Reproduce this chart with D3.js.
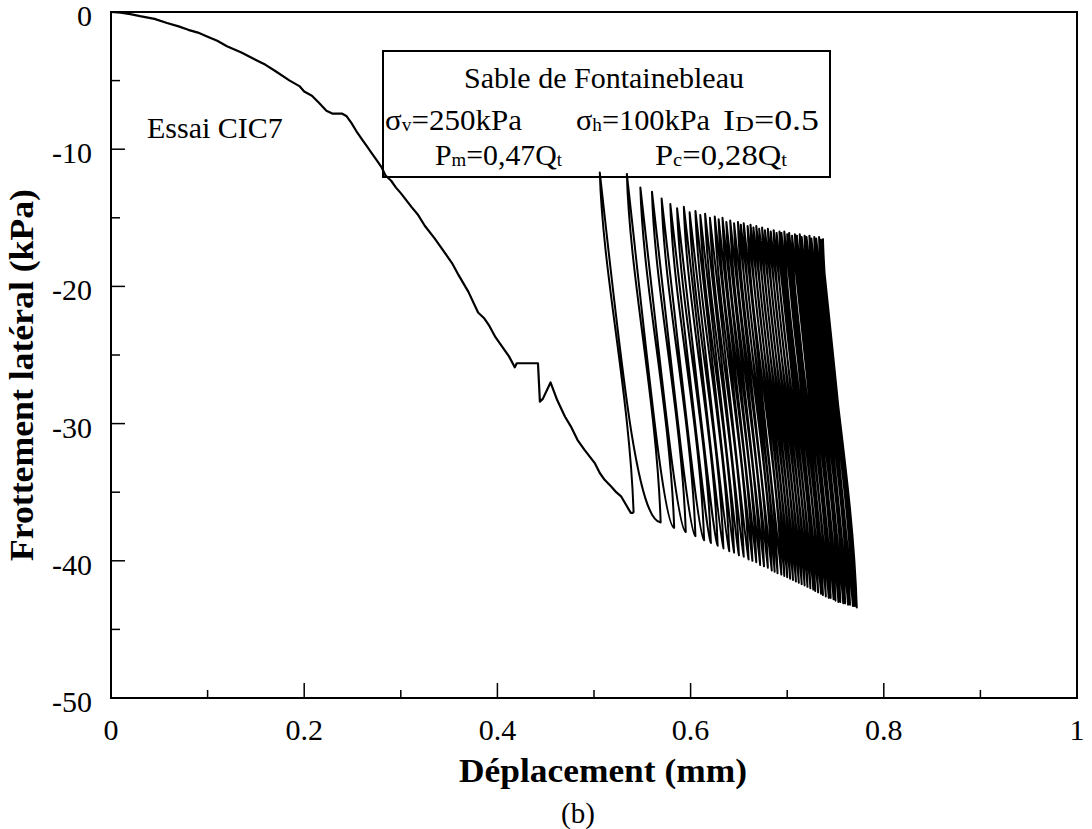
<!DOCTYPE html>
<html><head><meta charset="utf-8">
<script src="https://cdn.jsdelivr.net/npm/d3@7"></script>
<style>
html,body{margin:0;padding:0;background:#fff;}
svg{display:block;}
text{font-family:"Liberation Serif","Times New Roman",serif;fill:#000;}
</style></head>
<body><svg id="c" width="1092" height="829"></svg>
<script>
// ---- data ----
const xTicks = [0, 0.2, 0.4, 0.6, 0.8, 1];
const xTickLabels = ["0", "0.2", "0.4", "0.6", "0.8", "1"];
const yTicks = [0, -10, -20, -30, -40, -50];
const yTickLabels = ["0", "-10", "-20", "-30", "-40", "-50"];

// monotonic loading branch (displacement mm, friction kPa)
const monoX = [0,0.01,0.02,0.03,0.045,0.058,0.07,0.08,0.09,0.10,0.11,0.12,0.135,0.15,0.16,0.17,0.185,0.195,0.20,0.208,0.215,0.223,0.229,0.239,0.244,0.249,0.255,0.26,0.265,0.27,0.275,0.280,0.284,0.29,0.295,0.30,0.311,0.318,0.325,0.335,0.346,0.353,0.36,0.37,0.380,0.386,0.391,0.398,0.406,0.412,0.418,0.420,0.442,0.444,0.447,0.455,0.462,0.470,0.476,0.483,0.49,0.501,0.506,0.511,0.518,0.523,0.528,0.533,0.538,0.541];
const monoY = [0,-0.05,-0.15,-0.3,-0.5,-0.8,-1.05,-1.3,-1.5,-1.8,-2.1,-2.5,-2.95,-3.5,-3.85,-4.3,-5.0,-5.4,-5.8,-6.1,-6.6,-7.2,-7.4,-7.4,-7.6,-8.1,-8.8,-9.3,-9.8,-10.3,-10.8,-11.3,-11.9,-12.3,-12.8,-13.2,-14.2,-14.8,-15.6,-16.5,-17.6,-18.3,-19.2,-20.4,-21.9,-22.3,-22.8,-23.7,-24.5,-25.1,-25.9,-25.6,-25.6,-28.4,-28.2,-27.0,-28.3,-29.5,-30.2,-31.2,-31.9,-32.9,-33.6,-34.1,-34.6,-35.0,-35.3,-35.9,-36.5,-36.5];

// cyclic part: tops (end of each unloading) and bottoms (start of each unloading)
const topX = [0.506,0.534,0.548,0.560,0.570,0.579,0.586,0.593,0.599,0.605,0.610,0.615,0.620,0.625,0.629,0.633,0.637,0.641,0.645,0.649,0.652,0.655,0.659,0.662,0.665,0.668,0.671,0.674,0.677,0.680,0.683,0.686,0.689,0.692,0.694,0.697,0.700,0.702,0.705,0.708,0.710,0.713,0.715,0.718,0.720,0.723,0.725,0.728,0.730,0.733,0.735,0.737];
const topY = [-11.7,-11.8,-12.8,-13.1,-13.6,-14.0,-14.3,-14.2,-14.6,-14.5,-14.8,-14.7,-15.0,-14.9,-15.1,-15.0,-15.3,-15.2,-15.4,-15.3,-15.5,-15.4,-15.6,-15.5,-15.7,-15.6,-15.8,-15.7,-15.9,-15.8,-16.0,-15.9,-16.1,-16.0,-16.1,-16.0,-16.2,-16.1,-16.3,-16.2,-16.3,-16.2,-16.4,-16.3,-16.4,-16.3,-16.5,-16.4,-16.5,-16.4,-16.6,-16.5];
const botX = [0.541,0.569,0.583,0.595,0.605,0.614,0.621,0.628,0.634,0.640,0.645,0.650,0.655,0.660,0.664,0.668,0.672,0.676,0.680,0.684,0.687,0.690,0.694,0.697,0.700,0.703,0.706,0.709,0.712,0.715,0.718,0.721,0.724,0.727,0.729,0.732,0.735,0.737,0.740,0.743,0.745,0.748,0.750,0.753,0.755,0.758,0.760,0.763,0.765,0.768,0.770,0.772];
const botY = [-36.5,-37.2,-37.6,-37.9,-38.2,-38.5,-38.7,-38.9,-39.1,-39.3,-39.4,-39.6,-39.7,-39.9,-40.0,-40.1,-40.3,-40.4,-40.5,-40.7,-40.8,-40.9,-41.0,-41.1,-41.2,-41.3,-41.4,-41.5,-41.6,-41.7,-41.8,-41.9,-42.0,-42.1,-42.2,-42.3,-42.4,-42.5,-42.6,-42.7,-42.7,-42.8,-42.9,-43.0,-43.0,-43.1,-43.1,-43.2,-43.2,-43.3,-43.3,-43.4];

// ---- layout ----
const svg = d3.select("#c");
const L = 111, R = 1077, T = 12, B = 698;
const x = d3.scaleLinear().domain([0, 1]).range([L, R]);
const y = d3.scaleLinear().domain([0, -50]).range([T, B]);

// frame
svg.append("rect").attr("x", L).attr("y", T).attr("width", R - L).attr("height", B - T)
  .attr("fill", "none").attr("stroke", "#000").attr("stroke-width", 2);

// ticks (inward)
const gx = svg.append("g");
d3.range(0, 1.0001, 0.1).forEach((v, i) => {
  const major = i % 2 === 0;
  gx.append("line").attr("x1", x(v)).attr("x2", x(v)).attr("y1", B).attr("y2", B - (major ? 15 : 8))
    .attr("stroke", "#000").attr("stroke-width", 1.5);
});
const gy = svg.append("g");
d3.range(0, -50.001, -5).forEach((v, i) => {
  const major = i % 2 === 0;
  gy.append("line").attr("x1", L).attr("x2", L + (major ? 14 : 9)).attr("y1", y(v)).attr("y2", y(v))
    .attr("stroke", "#000").attr("stroke-width", 1.5);
});

// tick labels
xTicks.forEach((v, i) => {
  svg.append("text").attr("x", x(v)).attr("y", B + 42).attr("text-anchor", "middle")
    .attr("font-size", 30).text(xTickLabels[i]);
});
yTicks.forEach((v, i) => {
  svg.append("text").attr("x", 92).attr("y", y(v) + 14).attr("text-anchor", "end")
    .attr("font-size", 30).text(yTickLabels[i]);
});

// axis titles
svg.append("text").attr("x", 603).attr("y", 782).attr("text-anchor", "middle")
  .attr("font-size", 33).attr("font-weight", "bold")
  .attr("textLength", 288).attr("lengthAdjust", "spacingAndGlyphs").text("Déplacement (mm)");
svg.append("text").attr("x", 578).attr("y", 823).attr("text-anchor", "middle")
  .attr("font-size", 29).text("(b)");
svg.append("text").attr("transform", "translate(33,375) rotate(-90)").attr("text-anchor", "middle")
  .attr("font-size", 33).attr("font-weight", "bold")
  .attr("textLength", 372).attr("lengthAdjust", "spacingAndGlyphs").text("Frottement latéral (kPa)");

// monotonic curve
const mono = monoX.map((v, i) => [v, monoY[i]]);
svg.append("path").attr("d", d3.line().x(d => x(d[0])).y(d => y(d[1]))(mono))
  .attr("fill", "none").attr("stroke", "#000").attr("stroke-width", 2.2).attr("stroke-linejoin", "round");

// cyclic loops
const p = d3.path();
p.moveTo(x(botX[0]), y(botY[0]));
for (let i = 0; i < topX.length; i++) {
  const bx = x(botX[i]), by = y(botY[i]);
  const tx = x(topX[i]), ty = y(topY[i]);
  // unloading: bottom -> top
  p.bezierCurveTo(bx - 4, by - (by - ty) * 0.35, tx + 3, ty + (by - ty) * 0.3, tx, ty);
  if (i + 1 < topX.length) {
    const nbx = x(botX[i + 1]), nby = y(botY[i + 1]);
    // reloading: top -> next bottom
    p.bezierCurveTo(tx + (bx - tx) * 0.55 + 3, ty + (nby - ty) * 0.55,
                    bx + 3, nby - 2, nbx, nby);
  }
}
svg.append("path").attr("d", p.toString()).attr("fill", "none").attr("stroke", "#000")
  .attr("stroke-width", 2).attr("stroke-linejoin", "round");

// annotation box
svg.append("rect").attr("x", 383).attr("y", 51).attr("width", 447).attr("height", 126)
  .attr("fill", "none").attr("stroke", "#000").attr("stroke-width", 2);
svg.append("text").attr("x", 604).attr("y", 88).attr("text-anchor", "middle").attr("font-size", 30)
  .text("Sable de Fontainebleau");

function sub(xp, yp, len, main, s, rest, tail, ss) {
  const t = svg.append("text").attr("x", xp).attr("y", yp).attr("font-size", 30)
    .attr("textLength", len).attr("lengthAdjust", "spacingAndGlyphs");
  t.append("tspan").text(main);
  t.append("tspan").attr("font-size", ss || 19).attr("dy", 1).text(s);
  t.append("tspan").attr("dy", -1).text(rest);
  if (tail) t.append("tspan").attr("font-size", 19).attr("dy", 1).text(tail);
}
sub(385, 130, 137, "σ", "v", "=250kPa");
sub(576, 130, 134, "σ", "h", "=100kPa");
sub(723, 130, 96, "I", "D", "=0.5", null, 22);
sub(435, 165, 127, "P", "m", "=0,47Q", "t");
sub(655, 165, 132, "P", "c", "=0,28Q", "t");

svg.append("text").attr("x", 147).attr("y", 138).attr("font-size", 30).text("Essai CIC7");
</script>
</body></html>
